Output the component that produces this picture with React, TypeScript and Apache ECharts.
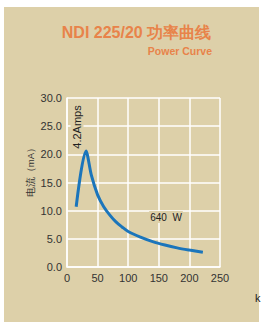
import React, { useEffect, useRef } from "react";
import * as echarts from "echarts";

const titleText = "NDI 225/20 功率曲线";
const subtitleText = "Power Curve";
const yAxisName = "电流（mA）";
const xAxisName = "k";
const peakLabel = "4.2Amps";
const powerLabel = "640  W";

const xTicks = [0, 50, 100, 150, 200, 250];
const yTicks = [0, 5, 10, 15, 20, 25, 30];

const voltage = [15, 31, 40, 50, 60, 70, 80, 90, 100, 120, 140, 160, 180, 200, 222];
const current = [10.7, 20.6, 16.2, 12.8, 10.7, 9.2, 8.0, 7.1, 6.3, 5.3, 4.5, 3.9, 3.4, 3.0, 2.6];

export default function App() {
  const ref = useRef<HTMLDivElement>(null);
  useEffect(() => {
    if (!ref.current) return;
    const chart = echarts.init(ref.current, null, { renderer: "svg" });
    const font = "'Liberation Sans', Arial, sans-serif";
    const orange = "#E8834A";
    const beige = "#DDD0A9";
    chart.setOption({
      animation: false,
      backgroundColor: "#ffffff",
      textStyle: { fontFamily: font },
      graphic: [
        {
          type: "rect",
          z: -100,
          shape: { x: 4, y: 7, width: 255, height: 315 },
          style: { fill: beige },
          silent: true,
        },
        {
          type: "text",
          x: 136.5,
          y: 32,
          style: {
            text: titleText,
            fill: orange,
            font: `bold 16px ${font}`,
            textAlign: "center",
            textVerticalAlign: "middle",
          },
        },
        {
          type: "text",
          x: 212,
          y: 51,
          style: {
            text: subtitleText,
            fill: orange,
            font: `bold 10.5px ${font}`,
            textAlign: "right",
            textVerticalAlign: "middle",
          },
        },
        {
          type: "text",
          x: 30,
          y: 170,
          rotation: Math.PI / 2,
          style: {
            text: yAxisName,
            fill: "#333",
            font: `9.5px ${font}`,
            textAlign: "center",
            textVerticalAlign: "middle",
          },
        },
        {
          type: "text",
          x: 77,
          y: 127,
          z: 50,
          rotation: Math.PI / 2,
          style: {
            text: peakLabel,
            fill: "#222",
            font: `11px ${font}`,
            textAlign: "center",
            textVerticalAlign: "middle",
            backgroundColor: beige,
            padding: [1, 1, 1, 1],
          },
        },
        {
          type: "text",
          x: 166,
          y: 217,
          z: 50,
          style: {
            text: powerLabel,
            fill: "#222",
            font: `10px ${font}`,
            textAlign: "center",
            textVerticalAlign: "middle",
            backgroundColor: beige,
            padding: [1, 1, 1, 1],
          },
        },
        {
          type: "text",
          x: 255,
          y: 298,
          style: {
            text: xAxisName,
            fill: "#222",
            font: `11px ${font}`,
            textAlign: "left",
            textVerticalAlign: "middle",
          },
        },
      ],
      grid: { left: 67, top: 98, right: 42, bottom: 55 },
      xAxis: {
        type: "value",
        min: xTicks[0],
        max: xTicks[xTicks.length - 1],
        interval: 50,
        axisLine: { show: true, lineStyle: { color: "#ffffff", width: 1.5 } },
        axisTick: { show: false },
        axisLabel: { color: "#333", fontSize: 11, margin: 5, fontFamily: font },
        splitLine: { show: true, lineStyle: { color: "#ffffff", width: 1.5 } },
      },
      yAxis: {
        type: "value",
        min: yTicks[0],
        max: yTicks[yTicks.length - 1],
        interval: 5,
        axisLine: { show: true, lineStyle: { color: "#ffffff", width: 1.5 } },
        axisTick: { show: false },
        axisLabel: {
          color: "#333",
          fontSize: 11,
          margin: 5,
          fontFamily: font,
          formatter: (v: number) => v.toFixed(1),
        },
        splitLine: { show: true, lineStyle: { color: "#ffffff", width: 1.5 } },
      },
      series: [
        {
          type: "line",
          data: voltage.map((v, i) => [v, current[i]]),
          showSymbol: false,
          smooth: 0.3,
          z: 20,
          lineStyle: { color: "#1B75BB", width: 3 },
          itemStyle: { color: "#1B75BB" },
        },
      ],
    });
    return () => chart.dispose();
  }, []);
  return (
    <div style={{ position: "fixed", left: 0, top: 0, width: 262, height: 322 }}>
      <div ref={ref} style={{ width: 262, height: 322 }} />
    </div>
  );
}
